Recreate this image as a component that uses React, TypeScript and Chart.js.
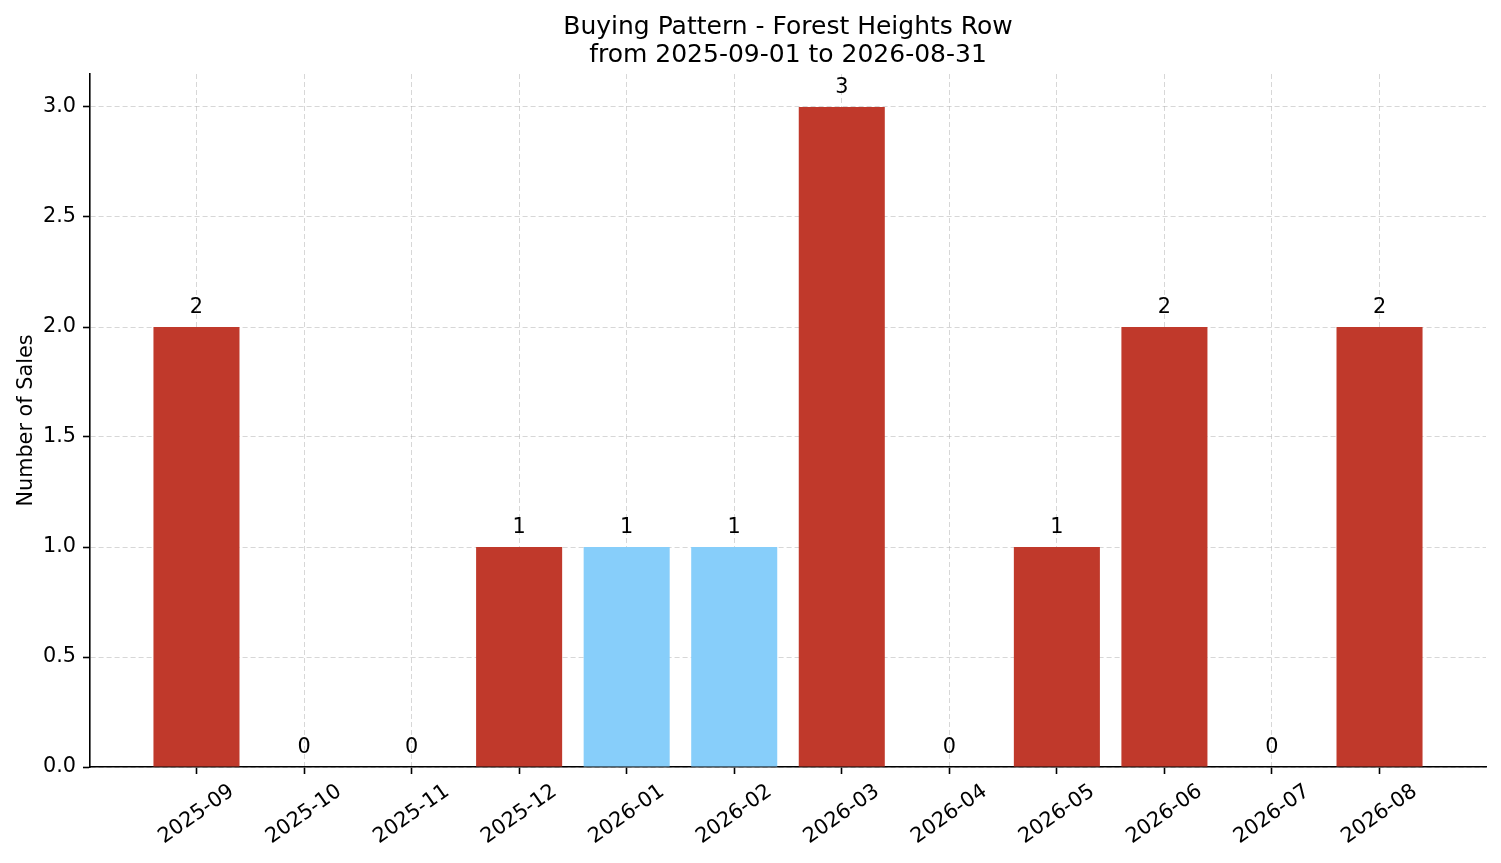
import React, { useEffect, useRef } from "react";
import { Chart, registerables } from "chart.js";

Chart.register(...registerables);

const titleLines = ["Buying Pattern - Forest Heights Row", "from 2025-09-01 to 2026-08-31"];
const yAxisLabel = "Number of Sales";
const months = [
  "2025-09", "2025-10", "2025-11", "2025-12", "2026-01", "2026-02",
  "2026-03", "2026-04", "2026-05", "2026-06", "2026-07", "2026-08",
];
const sales = [2, 0, 0, 1, 1, 1, 3, 0, 1, 2, 0, 2];
const highlightedMonths = ["2026-01", "2026-02"];
const yTicks = [0, 0.5, 1.0, 1.5, 2.0, 2.5, 3.0];

const RED = "#c0392b";
const BLUE = "#87cefa";
const FONT = "DejaVu Sans";
const TICK_PX = 20.8;
const TITLE_PX = 25;
const GRID = "rgba(176,176,176,0.5)";

const annotatePlugin = {
  id: "annotate",
  afterDraw(chart: any) {
    const ctx = chart.ctx;
    const area = chart.chartArea;
    const xs = chart.scales.x;
    ctx.save();
    ctx.fillStyle = "#000";
    // title
    ctx.font = `${TITLE_PX}px "${FONT}"`;
    ctx.textAlign = "center";
    ctx.textBaseline = "alphabetic";
    const cx = (area.left + area.right) / 2;
    ctx.fillText(titleLines[0], cx, 34);
    ctx.fillText(titleLines[1], cx, 62);
    // y label
    ctx.font = `${TICK_PX}px "${FONT}"`;
    ctx.save();
    ctx.translate(32, (area.top + area.bottom) / 2);
    ctx.rotate(-Math.PI / 2);
    ctx.textAlign = "center";
    ctx.textBaseline = "alphabetic";
    ctx.fillText(yAxisLabel, 0, 0);
    ctx.restore();
    // x tick labels rotated 35deg, centered on tick
    const theta = (35 * Math.PI) / 180;
    months.forEach((m, i) => {
      const px = xs.getPixelForValue(i);
      const w = ctx.measureText(m).width;
      const h = TICK_PX;
      const H = w * Math.sin(theta) + h * Math.cos(theta);
      const cy = area.bottom + 7 + 7 + H / 2;
      ctx.save();
      ctx.translate(px, cy);
      ctx.rotate(-theta);
      ctx.textAlign = "center";
      ctx.textBaseline = "middle";
      ctx.fillText(m, 0, 0);
      ctx.restore();
    });
    // value labels
    const meta = chart.getDatasetMeta(0);
    ctx.textAlign = "center";
    ctx.textBaseline = "alphabetic";
    meta.data.forEach((el: any, i: number) => {
      ctx.fillText(String(sales[i]), el.x, el.y - 14);
    });
    ctx.restore();
  },
};

export default function App() {
  const ref = useRef<HTMLCanvasElement | null>(null);
  useEffect(() => {
    document.body.style.margin = "0";
    if (!ref.current) return;
    const chart = new Chart(ref.current, {
      type: "bar",
      data: {
        datasets: [
          {
            data: sales.map((v, i) => ({ x: i, y: v })) as any,
            backgroundColor: months.map((m) => (highlightedMonths.includes(m) ? BLUE : RED)),
            borderWidth: 0,
            barPercentage: 0.8,
            categoryPercentage: 1.0,
          },
        ],
      },
      options: {
        animation: false,
        responsive: false,
        devicePixelRatio: 1,
        layout: { padding: { left: 0, top: 74, right: 15, bottom: 0 } },
        plugins: {
          legend: { display: false },
          title: { display: false },
          tooltip: { enabled: false },
        },
        scales: {
          x: {
            type: "linear",
            min: -0.99,
            max: 11.99,
            offset: false,
            z: 1,
            afterBuildTicks: (s: any) => {
              s.ticks = months.map((_, i) => ({ value: i }));
            },
            afterFit: (s: any) => {
              s.height = 96;
            },
            ticks: { display: false },
            grid: {
              offset: false,
              color: GRID,
              lineWidth: 1,
              drawTicks: true,
              tickLength: 7,
              tickColor: "#000",
              tickWidth: 1.6,
            },
            border: { display: true, color: "#000", width: 1.6, dash: [5, 3] },
          },
          y: {
            type: "linear",
            min: 0,
            max: 3.15,
            z: 1,
            afterBuildTicks: (s: any) => {
              s.ticks = yTicks.map((v) => ({ value: v }));
            },
            afterFit: (s: any) => {
              s.width = 90;
            },
            ticks: {
              color: "#000",
              padding: 7,
              font: { family: FONT, size: TICK_PX },
              callback: (v: any) => Number(v).toFixed(1),
            },
            grid: {
              color: GRID,
              lineWidth: 1,
              drawTicks: true,
              tickLength: 7,
              tickColor: "#000",
              tickWidth: 1.6,
            },
            border: { display: true, color: "#000", width: 1.6, dash: [5, 3] },
          },
        },
      } as any,
      plugins: [annotatePlugin],
    });
    return () => chart.destroy();
  }, []);
  return (
    <div style={{ position: "absolute", left: 0, top: 0, width: 1501, height: 863, background: "#fff" }}>
      <canvas ref={ref} width={1501} height={863} style={{ width: 1501, height: 863 }} />
    </div>
  );
}
